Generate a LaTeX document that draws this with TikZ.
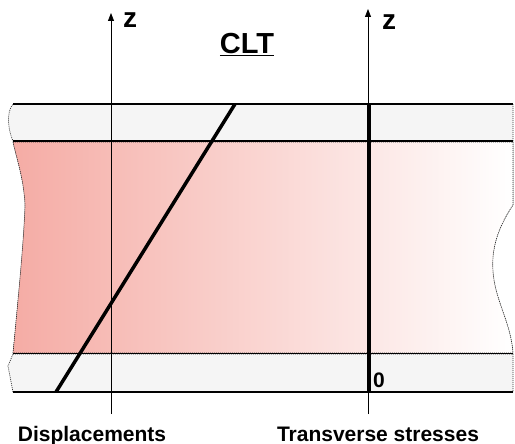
\documentclass[tikz,border=0pt]{standalone}
\usepackage{fontspec}
\setmainfont{Liberation Sans}
\usetikzlibrary{arrows.meta, positioning}
\usepackage{xcolor}
\definecolor{corepink}{RGB}{245,172,165}
\definecolor{skingray}{RGB}{245,245,245}

\begin{document}
\begin{tikzpicture}[x=1pt, y=-1pt,
  outline/.style={draw=black!80, line width=0.7pt, dash pattern=on 1pt off 1pt},
  face/.style={line width=1.8pt},
  axis/.style={line width=0.8pt, -{Triangle[length=8pt, width=6pt]}},
  lbl/.style={inner sep=0pt, anchor=base, font=\bfseries\fontsize{21}{24}\selectfont},
  zlbl/.style={inner sep=0pt, anchor=base west, font=\bfseries\fontsize{28}{30}\selectfont}]
  \useasboundingbox (0,0) rectangle (515,444);

  % top skin
  \filldraw[fill=skingray, outline] (13,104) -- (513,104) -- (513,141) -- (13,141)
    .. controls (8,130) and (6,112) .. (13,104) -- cycle;
  % core
  \filldraw[left color=corepink, right color=white, outline] (13,142) -- (513,142) -- (513,205)
    .. controls (495,232) and (490,255) .. (494,280)
    .. controls (498,305) and (511,325) .. (513,353) -- (13,353)
    .. controls (18,300) and (24,240) .. (25,205)
    .. controls (24,180) and (17,160) .. (13,142) -- cycle;
  % bottom skin
  \filldraw[fill=skingray, outline] (13,354) -- (513,354) -- (513,392) -- (13,392)
    -- (8,366) -- cycle;

  % faces
  \draw[face] (13,104) -- (513,104);
  \draw[face] (13,141) -- (513,141);
  \draw[line width=1pt] (13,353) -- (513,353);
  \draw[face] (13,392) -- (513,392);

  % axes
  \coordinate (d0) at (111,414);
  \coordinate (d1) at (111,13);
  \coordinate (s0) at (368,414);
  \coordinate (s1) at (368,9);
  \draw[axis] (d0) -- (d1);
  \draw[axis] (s0) -- (s1);

  % displacement and stress
  \coordinate (u0) at (56,392);
  \coordinate (u1) at (235,104);
  \coordinate (t0) at (369,392);
  \coordinate (t1) at (369,104);
  \draw[line width=3.5pt] (u0) -- (u1);
  \draw[line width=3.5pt] (t0) -- (t1);

  % labels
  \node[lbl, font=\bfseries\fontsize{29}{32}\selectfont] (clt) at (247,54) {\underline{CLT}};
  \node[zlbl] (zd) at (123,28) {z};
  \node[zlbl] (zs) at (382,30) {z};
  \node[lbl, anchor=base west] (zero) at (373,387) {0};
  \node[lbl] (disp) at (92,441) {Displacements};
  \node[lbl] (stress) at (378,441) {Transverse stresses};
\end{tikzpicture}
\end{document}
